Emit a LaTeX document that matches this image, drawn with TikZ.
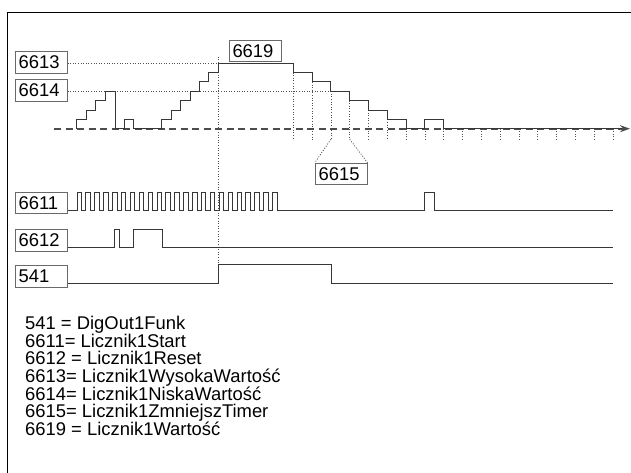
\documentclass[tikz,border=0pt]{standalone}
\usepackage{fontspec}
\setmainfont{Liberation Sans}
\usetikzlibrary{arrows.meta,calc,positioning}
\definecolor{sig}{RGB}{55,55,55}
\definecolor{frm}{RGB}{105,105,105}
\definecolor{gd}{RGB}{80,80,80}

\begin{document}
\begin{tikzpicture}[x=1pt, y=-1pt, >={Stealth[length=10pt,width=7pt]},
  font=\fontsize{18.4}{17.7}\selectfont,
  lbl/.style={draw=frm, line width=0.9pt, inner xsep=3.5pt, inner ysep=0pt,
    minimum height=21.5pt, text width=45pt, align=left, anchor=west},
  trace/.style={draw=sig, line width=0.9pt},
  guide/.style={draw=gd, line width=0.8pt, dash pattern=on 1pt off 1.6pt}]
\useasboundingbox (0,0) rectangle (631,473);

% frame
\draw[line width=1pt] (7.3,473) -- (7.3,12.3) -- (631,12.3);

% labels
\node[lbl] (v6613) at (14.7,62.5) {6613};
\node[lbl] (v6614) at (14.7,90.5) {6614};
\node[lbl, anchor=center] (v6619) at (255,51) {6619};
\node[lbl, anchor=center] (v6615) at (341.2,174) {6615};
\node[lbl] (v6611) at (14.7,202.8) {6611};
\node[lbl] (v6612) at (14.7,240.2) {6612};
\node[lbl] (v541) at (14.7,276.2) {541};

% counter levels
\coordinate (hi) at (218.3,63.25);
\coordinate (lo) at (330.9,91.3);
\coordinate (r541) at (218.3,264.3);

\draw[guide] (v6613.east |- hi) -- (hi);
\draw[guide] (v6614.east |- lo) -- (lo);
\draw[guide] (218.3,56.7) -- (r541);

% ticks
\foreach \k in {0,...,17}{
  \pgfmathsetmacro\xt{293.3+18.8*\k}
  \pgfmathsetmacro\yt{128.7-9.35*max(6-\k,0)}
  \draw[guide] (\xt,\yt) -- (\xt,139.3) coordinate (t\k);
}
\draw[guide] (t2) -- (v6615.north west);
\draw[guide] (t3) -- (v6615.north east);

% time axis
\draw[->, draw=black!70, line width=1.8pt, dash pattern=on 7pt off 4.5pt] (54,128.7) -- (630,128.7);

% counter value
\draw[trace] (76.7,128.7) |- (86,119.35) |- (95.7,110) |- (105.3,100.65) |- (115,91.3)
  |- (124,128.7) |- (133.7,119.35) |- (161.7,128.7)
  |- (171,119.35) |- (180.3,110) |- (190,100.65) |- (199.3,91.3) |- (208.7,81.95)
  |- (218.3,72.6) |- (293.3,63.25) |- (312.1,72.6) |- (330.9,81.95) |- (349.7,91.3)
  |- (368.5,100.65) |- (387.3,110) |- (406.1,119.35) |- (424.9,128.7) |- (443.7,119.35)
  |- (622,128.7);

% 6611 start
\draw[trace] (v6611.east |- 0,210.7) -- (77,210.7)
  \foreach \i in {0,...,22}{ -- ++(0,-17.9) -- ++(4.445,0) -- ++(0,17.9) -- ++(4.445,0) }
  -| (424.3,192.8) -| (434.7,210.7) -- (613,210.7);

% 6612 reset
\draw[trace] (v6612.east |- 0,247.5) -| (114.7,229.5) -| (119,247.5) -| (133.3,229.5)
  -| (162,247.5) -- (613,247.5);

% 541 output
\draw[trace] (v541.east |- 0,283.5) -| (r541) -| (331,283.5) -- (613,283.5);

% legend
\foreach \t [count=\i] in {541 = DigOut1Funk, 6611= Licznik1Start, 6612 = Licznik1Reset,
  6613= Licznik1WysokaWartość, 6614= Licznik1NiskaWartość, 6615= Licznik1ZmniejszTimer,
  6619 = Licznik1Wartość}
  \node[anchor=base west, inner sep=0pt] (leg\i) at (25,{329.3+17.7*(\i-1)}) {\t};
\end{tikzpicture}
\end{document}
